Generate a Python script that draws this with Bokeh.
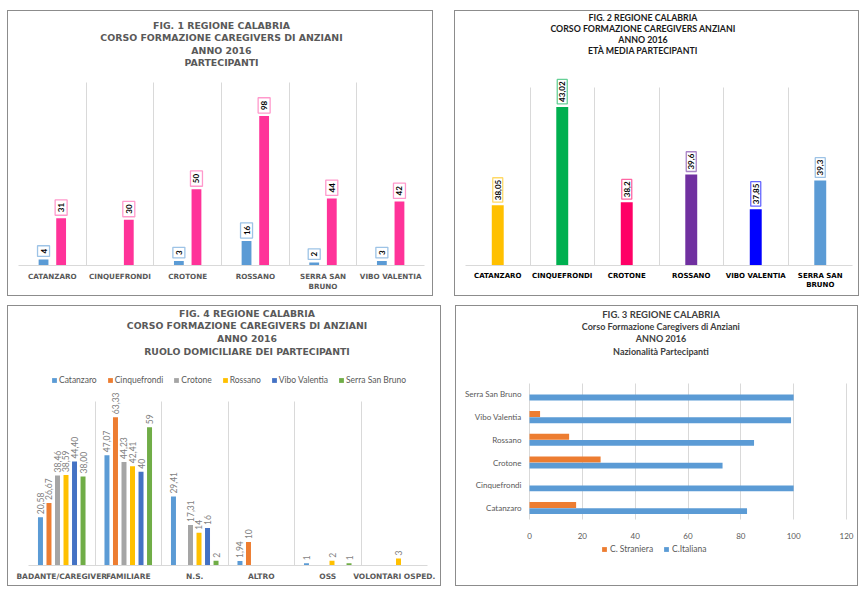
import math
from bokeh.plotting import figure
from bokeh.models import (ColumnDataSource, LabelSet, Label, Range1d, FixedTicker, Text, Grid,
                          Legend, LegendItem)
from bokeh.layouts import row, column
from bokeh.embed import file_html
from bokeh.resources import INLINE
from bokeh.core.properties import value

# ---------------- DATA ----------------
# Fig. 1 - Partecipanti
f1_title = ["FIG. 1 REGIONE CALABRIA", "CORSO FORMAZIONE CAREGIVERS DI ANZIANI", "ANNO 2016", "PARTECIPANTI"]
f1_categories = ["CATANZARO", "CINQUEFRONDI", "CROTONE", "ROSSANO", "SERRA SAN\nBRUNO", "VIBO VALENTIA"]
f1_blue = [4, None, 3, 16, 2, 3]
f1_pink = [31, 30, 50, 98, 44, 42]
f1_axis = [0, 120]

# Fig. 2 - Eta media partecipanti
f2_title = ["FIG. 2 REGIONE CALABRIA", "CORSO FORMAZIONE CAREGIVERS ANZIANI", "ANNO 2016", "ETÀ MEDIA PARTECIPANTI"]
f2_categories = ["CATANZARO", "CINQUEFRONDI", "CROTONE", "ROSSANO", "VIBO VALENTIA", "SERRA SAN\nBRUNO"]
f2_values = [38.05, 43.02, 38.2, 39.6, 37.85, 39.3]
f2_labels = ["38,05", "43,02", "38,2", "39,6", "37,85", "39,3"]
f2_colors = ["#FFC000", "#00B050", "#FF0066", "#7030A0", "#0000FF", "#5B9BD5"]
f2_border = ["#FFD966", "#66D096", "#FF66A3", "#A983C6", "#6666FF", "#9DC3E6"]
f2_axis = [35, 44]

# Fig. 4 - Ruolo domiciliare
f4_title = ["FIG. 4 REGIONE CALABRIA", "CORSO FORMAZIONE CAREGIVERS DI ANZIANI", "ANNO 2016",
            "RUOLO DOMICILIARE DEI PARTECIPANTI"]
f4_categories = ["BADANTE/CAREGIVER", "FAMILIARE", "N.S.", "ALTRO", "OSS", "VOLONTARI OSPED."]
f4_series = ["Catanzaro", "Cinquefrondi", "Crotone", "Rossano", "Vibo Valentia", "Serra San Bruno"]
f4_colors = ["#5B9BD5", "#ED7D31", "#A5A5A5", "#FFC000", "#4472C4", "#70AD47"]
f4_catanzaro = [20.58, 47.07, 29.41, 1.94, 1, None]
f4_cinquefrondi = [26.67, 63.33, None, 10, None, None]
f4_crotone = [38.46, 44.23, 17.31, None, None, None]
f4_rossano = [38.59, 42.41, 14, None, 2, 3]
f4_vibo = [44.40, 40, 16, None, None, None]
f4_serra = [38.00, 59, 2, None, 1, None]
f4_catanzaro_lbl = ["20,58", "47,07", "29,41", "1,94", "1", ""]
f4_cinquefrondi_lbl = ["26,67", "63,33", "", "10", "", ""]
f4_crotone_lbl = ["38,46", "44,23", "17,31", "", "", ""]
f4_rossano_lbl = ["38,59", "42,41", "14", "", "2", "3"]
f4_vibo_lbl = ["44,40", "40", "16", "", "", ""]
f4_serra_lbl = ["38,00", "59", "2", "", "1", ""]
f4_axis = [0, 70]

# Fig. 3 - Nazionalita
f3_title = ["FIG. 3 REGIONE CALABRIA", "Corso Formazione Caregivers di Anziani", "ANNO 2016",
            "Nazionalità Partecipanti"]
f3_categories = ["Catanzaro", "Cinquefrondi", "Crotone", "Rossano", "Vibo Valentia", "Serra San Bruno"]
f3_straniera = [17.65, 0, 26.92, 15, 4, 0]
f3_italiana = [82.35, 100, 73.08, 85, 99, 100]
f3_ticks = [0, 20, 40, 60, 80, 100, 120]

GRID = "#D9D9D9"
BORDER = "#8C8C8C"
TEXT_PAD = "padding" in Text.properties()
HAS_CROSS = "cross_bounds" in Grid.properties()


def extend(lo, hi, data_px, below_px, above_px):
    """Range whose [lo, hi] part spans data_px pixels, with extra room below/above for texts."""
    k = (hi - lo) / data_px
    return Range1d(lo - below_px * k, hi + above_px * k)


def make_fig(w, h, xr, yr, left, right, top, bottom, margin):
    p = figure(width=w, height=h, x_range=xr, y_range=yr, output_backend="svg",
               toolbar_location=None, min_border_left=left, min_border_right=right,
               min_border_top=top, min_border_bottom=bottom, margin=margin)
    p.outline_line_color = None
    p.styles = {"border": "1px solid " + BORDER}
    return p


def titles(p, lines, x, y, offsets, font, sizes, color, x_offset=0):
    for ln, off, sz in zip(lines, offsets, sizes):
        p.add_layout(Label(x=x, y=y, text=ln, x_offset=x_offset, y_offset=off,
                           text_align="center", text_baseline="middle", text_font=font,
                           text_font_size=sz, text_font_style="bold", text_color=color))


def separators(p, n, lo, hi):
    """Vertical category separators limited to the data area."""
    if HAS_CROSS:
        p.xgrid.ticker = FixedTicker(ticks=list(range(n + 1)))
        p.xgrid.grid_line_color = GRID
        p.xgrid.cross_bounds = (lo, hi)
    else:
        p.xgrid.grid_line_color = None
        xs = list(range(n + 1))
        p.segment(x0=xs, x1=xs, y0=[lo] * len(xs), y1=[hi] * len(xs), line_color=GRID)


def cat_axis(p, cats, font, size, color, style, standoff, lo, hi):
    n = len(cats)
    centers = [i + 0.5 for i in range(n)]
    p.xaxis.ticker = FixedTicker(ticks=centers)
    p.xaxis.major_label_overrides = {c: name for c, name in zip(centers, cats)}
    p.xaxis.major_label_text_font = font
    p.xaxis.major_label_text_font_size = size
    p.xaxis.major_label_text_color = color
    p.xaxis.major_label_text_font_style = style
    p.xaxis.major_label_standoff = standoff
    p.xaxis.major_tick_in = 0
    p.xaxis.major_tick_out = 0
    p.xaxis.minor_tick_line_color = None
    p.xaxis.axis_line_color = GRID
    separators(p, n, lo, hi)
    p.ygrid.grid_line_color = None
    p.yaxis.visible = False


def boxed_labels(p, src, bcol, pad, gap, size):
    if TEXT_PAD:
        p.text(x="x", y="top", text="lbl", source=src, angle=math.pi / 2,
               text_align="left", text_baseline="middle", y_offset=-gap,
               text_font=value("Lato"), text_font_size=size, text_font_style="bold",
               text_color="#000000", background_fill_color="#FFFFFF",
               border_line_color=bcol, border_line_width=1.3, padding=pad)
    else:
        p.add_layout(LabelSet(x="x", y="top", text="lbl", source=src, angle=math.pi / 2,
                              text_align="left", text_baseline="middle", y_offset=gap + pad,
                              text_font=value("Lato"), text_font_size=size,
                              text_font_style="bold", text_color="#000000",
                              background_fill_color="#FFFFFF", border_line_color=bcol,
                              border_line_width=1.3))


# ---------------- FIG 1 ----------------
n1 = len(f1_categories)
p1 = make_fig(426, 286, Range1d(0, n1), extend(f1_axis[0], f1_axis[1], 183, 0, 71),
              10, 10, 0, 32, (10, 0, 0, 7))
cat_axis(p1, f1_categories, "DejaVu Sans", "7.2px", "#595959", "bold", 6, *f1_axis)
for vals, off, col, bcol in [(f1_blue, -0.13, "#5B9BD5", "#9DC3E6"), (f1_pink, 0.13, "#FF3399", "#FF99CC")]:
    xs = [i + 0.5 + off for i, v in enumerate(vals) if v is not None]
    tops = [v for v in vals if v is not None]
    src = ColumnDataSource(dict(x=xs, top=tops, lbl=[str(v) for v in tops]))
    p1.vbar(x="x", top="top", width=0.145, fill_color=col, line_color=None, source=src)
    boxed_labels(p1, src, bcol, 3, 3, "8px")
titles(p1, f1_title, n1 / 2, f1_axis[1], [57, 45, 32, 20], "DejaVu Sans", ["9.4px"] * 4,
       "#595959")

# ---------------- FIG 2 ----------------
n2 = len(f2_categories)
p2 = make_fig(405, 286, Range1d(0, n2), extend(f2_axis[0], f2_axis[1], 178, 0, 76),
              10, 8, 0, 32, (10, 0, 0, 21))
cat_axis(p2, f2_categories, "DejaVu Sans", "7px", "#000000", "bold", 6, *f2_axis)
src2 = ColumnDataSource(dict(x=[i + 0.5 for i in range(n2)], top=f2_values, lbl=f2_labels,
                             col=f2_colors, bcol=f2_border))
p2.vbar(x="x", top="top", bottom=f2_axis[0], width=0.185, fill_color="col", line_color=None,
        source=src2)
boxed_labels(p2, src2, "bcol", 2, 3, "8px")
titles(p2, f2_title, n2 / 2, f2_axis[1], [70, 59, 48, 37], "Lato", ["8.8px"] * 4, "#1A1A1A",
       x_offset=-16)

# ---------------- FIG 4 ----------------
n4 = len(f4_categories)
p3 = make_fig(434, 281, Range1d(0, n4), extend(f4_axis[0], f4_axis[1], 164, 0, 95),
              20, 15, 0, 22, (9, 0, 0, 7))
cat_axis(p3, f4_categories, "DejaVu Sans", "7.5px", "#595959", "bold", 6, *f4_axis)
f4_vals = [f4_catanzaro, f4_cinquefrondi, f4_crotone, f4_rossano, f4_vibo, f4_serra]
f4_lbls = [f4_catanzaro_lbl, f4_cinquefrondi_lbl, f4_crotone_lbl, f4_rossano_lbl, f4_vibo_lbl,
           f4_serra_lbl]
items4 = []
for k, (name, vals, lbls, col) in enumerate(zip(f4_series, f4_vals, f4_lbls, f4_colors)):
    off = (k - 2.5) * 0.128
    xs = [i + 0.5 + off for i, v in enumerate(vals) if v is not None]
    tops = [v for v in vals if v is not None]
    ls = [l for l, v in zip(lbls, vals) if v is not None]
    src = ColumnDataSource(dict(x=xs, top=tops, lbl=ls))
    r = p3.vbar(x="x", top="top", width=0.075, fill_color=col, line_color=None, source=src)
    items4.append(LegendItem(label=name, renderers=[r]))
    p3.add_layout(LabelSet(x="x", y="top", text="lbl", source=src, angle=math.pi / 2,
                           text_align="left", text_baseline="middle", y_offset=3,
                           text_font=value("Lato"), text_font_size="8.5px",
                           text_color="#7F7F7F"))
leg4 = Legend(items=items4, orientation="horizontal", location=(23, 180), padding=0, margin=0,
              spacing=10, glyph_width=6, glyph_height=6, label_standoff=2, label_height=10,
              label_width=10, label_text_font="Lato", label_text_font_size="8.5px",
              label_text_color="#595959", border_line_color=None, background_fill_alpha=0)
p3.add_layout(leg4)
titles(p3, f4_title, n4 / 2, f4_axis[1], [88, 76, 63, 50], "DejaVu Sans", ["9.3px"] * 4,
       "#595959", x_offset=19)

# ---------------- FIG 3 ----------------
n3 = len(f3_categories)
p4 = make_fig(403, 281, extend(f3_ticks[0], f3_ticks[-1], 317, 8, 10), extend(0, n3, 148, 50, 83),
              65, 3, 0, 0, (9, 0, 0, 14))
ys = [i + 0.5 for i in range(n3)]
src3 = ColumnDataSource(dict(ys=[y + 0.135 for y in ys], yi=[y - 0.135 for y in ys],
                             s=f3_straniera, it=f3_italiana))
r_s = p4.hbar(y="ys", right="s", height=0.26, fill_color="#ED7D31", line_color=None, source=src3)
r_i = p4.hbar(y="yi", right="it", height=0.26, fill_color="#5B9BD5", line_color=None, source=src3)
p4.xaxis.fixed_location = 0
p4.xaxis.ticker = FixedTicker(ticks=f3_ticks)
p4.xaxis.axis_line_color = None
p4.xaxis.major_tick_line_color = None
p4.xaxis.minor_tick_line_color = None
p4.xaxis.major_label_standoff = 8
p4.yaxis.ticker = FixedTicker(ticks=ys)
p4.yaxis.major_label_overrides = {y: name for y, name in zip(ys, f3_categories)}
p4.yaxis.axis_line_color = None
p4.yaxis.major_tick_line_color = None
p4.yaxis.minor_tick_line_color = None
p4.yaxis.major_tick_in = 0
p4.yaxis.major_tick_out = 0
p4.yaxis.major_label_standoff = 0
for ax in (p4.xaxis, p4.yaxis):
    ax.major_label_text_font = "Lato"
    ax.major_label_text_font_size = "8px"
    ax.major_label_text_color = "#595959"
p4.xgrid.grid_line_color = GRID
p4.xgrid.ticker = FixedTicker(ticks=f3_ticks)
if HAS_CROSS:
    p4.xgrid.cross_bounds = (0, n3)
p4.ygrid.grid_line_color = None
leg3 = Legend(items=[LegendItem(label="C. Straniera", renderers=[r_s]),
                     LegendItem(label="C.Italiana", renderers=[r_i])],
              orientation="horizontal", location=(80, 11), padding=0, margin=0, spacing=10,
              glyph_width=6, glyph_height=6, label_standoff=3, label_height=10, label_width=10,
              label_text_font="Lato", label_text_font_size="8.5px", label_text_color="#595959",
              border_line_color=None, background_fill_alpha=0)
p4.add_layout(leg3)
titles(p4, f3_title, (f3_ticks[0] + f3_ticks[-1]) / 2, n3, [69, 57, 45, 32], "Lato",
       ["9.5px", "9px", "9px", "9px"], "#404040", x_offset=-27)

layout = column(row(p1, p2), row(p3, p4))
open("out.html", "w").write(file_html(layout, INLINE))
